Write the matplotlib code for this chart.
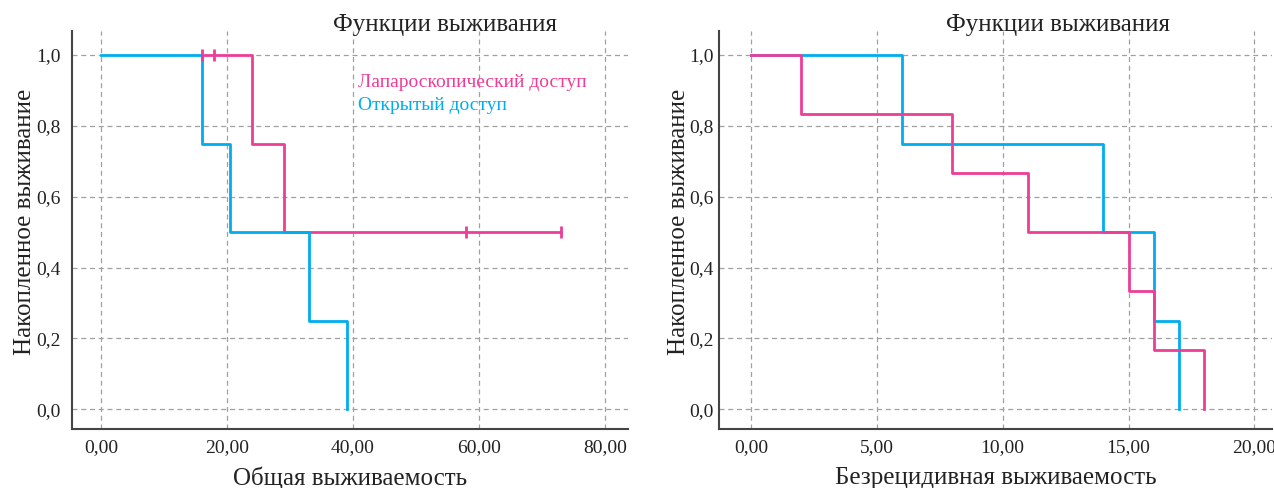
import matplotlib
matplotlib.use("Agg")
import matplotlib.pyplot as plt
from matplotlib.ticker import FixedLocator

plt.rcParams['font.family'] = ['Liberation Serif', 'DejaVu Serif']

PINK = '#EE3D96'
BLUE = '#00AEEF'

# ---- Left panel: overall survival ----
os_lap_t = [0, 16, 24, 29, 73]
os_lap_s = [1.0, 1.0, 0.75, 0.5, 0.5]
os_lap_cens_t = [16, 18, 58, 73]
os_lap_cens_s = [1.0, 1.0, 0.5, 0.5]

os_open_t = [0, 16, 20.5, 33, 39]
os_open_s = [1.0, 0.75, 0.5, 0.25, 0.0]

os_xticks = [0, 20, 40, 60, 80]
os_xticklabels = ['0,00', '20,00', '40,00', '60,00', '80,00']

# ---- Right panel: relapse-free survival ----
rfs_lap_t = [0, 2, 8, 11, 15, 16, 18]
rfs_lap_s = [1.0, 0.833, 0.667, 0.5, 0.333, 0.167, 0.0]

rfs_open_t = [0, 6, 14, 16, 17]
rfs_open_s = [1.0, 0.75, 0.5, 0.25, 0.0]

rfs_xticks = [0, 5, 10, 15, 20]
rfs_xticklabels = ['0,00', '5,00', '10,00', '15,00', '20,00']

yticks = [0.0, 0.2, 0.4, 0.6, 0.8, 1.0]
yticklabels = ['0,0', '0,2', '0,4', '0,6', '0,8', '1,0']

title = 'Функции выживания'
ylabel = 'Накопленное выживание'
legend_labels = ['Лапароскопический доступ', 'Открытый доступ']

W, H = 1274, 488
fig = plt.figure(figsize=(W / 100, H / 100), dpi=100)

def km_xy(t, s):
    xs, ys = [t[0]], [s[0]]
    for i in range(1, len(t)):
        xs.append(t[i]); ys.append(ys[-1])
        xs.append(t[i]); ys.append(s[i])
    return xs, ys

def style_axes(ax, xticks, xticklabels, xlim, xlabel, title_x, ypad, ylpad):
    ax.set_xlim(*xlim)
    ax.set_ylim(-0.056, 1.068)
    ax.xaxis.set_major_locator(FixedLocator(xticks))
    ax.set_xticklabels(xticklabels)
    ax.set_yticks(yticks)
    ax.set_yticklabels(yticklabels)
    ax.tick_params(length=0, labelsize=14, colors='#222222')
    ax.tick_params(axis='x', pad=7)
    ax.tick_params(axis='y', pad=ypad)
    ax.grid(True, linestyle=(0, (4, 3)), color='#a0a0a0', linewidth=0.9)
    ax.set_axisbelow(True)
    for sp in ['top', 'right']:
        ax.spines[sp].set_visible(False)
    for sp in ['left', 'bottom']:
        ax.spines[sp].set_color('#444444')
        ax.spines[sp].set_linewidth(1.5)
    ax.set_xlabel(xlabel, fontsize=18, color='#222222', labelpad=8)
    ax.set_ylabel(ylabel, fontsize=18, color='#222222', labelpad=ylpad)
    ax.yaxis.label.set_y(0.52)
    ax.text(title_x, 0.987, title, transform=ax.transAxes, ha='center',
            va='bottom', fontsize=18, color='#222222')

# left axes: pixel 72..628 in x, 31..429 in y
ax1 = fig.add_axes([72 / W, 1 - 429 / H, (628 - 72) / W, (429 - 31) / H])
x, y = km_xy(os_lap_t, os_lap_s)
ax1.plot(x[2:], y[2:], color=PINK, lw=2.0, zorder=3)
x, y = km_xy(os_open_t, os_open_s)
ax1.plot(x, y, color=BLUE, lw=2.0, zorder=4)
ax1.plot(os_lap_cens_t, os_lap_cens_s, linestyle='none', marker='|',
         markersize=9, markeredgewidth=2.0, color=PINK, zorder=5)
style_axes(ax1, os_xticks, os_xticklabels, (-4.6, 83.7),
           'Общая выживаемость', 0.67, 8, 0.5)
ax1.text(0.514, 0.87, legend_labels[0], transform=ax1.transAxes,
         color=PINK, fontsize=14, va='center')
ax1.text(0.514, 0.812, legend_labels[1], transform=ax1.transAxes,
         color=BLUE, fontsize=14, va='center')

# right axes: pixel 719..1272
ax2 = fig.add_axes([719 / W, 1 - 429 / H, (1272 - 719) / W, (429 - 31) / H])
x, y = km_xy(rfs_open_t, rfs_open_s)
ax2.plot(x, y, color=BLUE, lw=2.0, zorder=3)
x, y = km_xy(rfs_lap_t, rfs_lap_s)
ax2.plot(x, y, color=PINK, lw=2.0, zorder=4)
style_axes(ax2, rfs_xticks, rfs_xticklabels, (-1.27, 20.7),
           'Безрецидивная выживаемость', 0.613, 4, -1)

fig.savefig('out.png', dpi=100)
